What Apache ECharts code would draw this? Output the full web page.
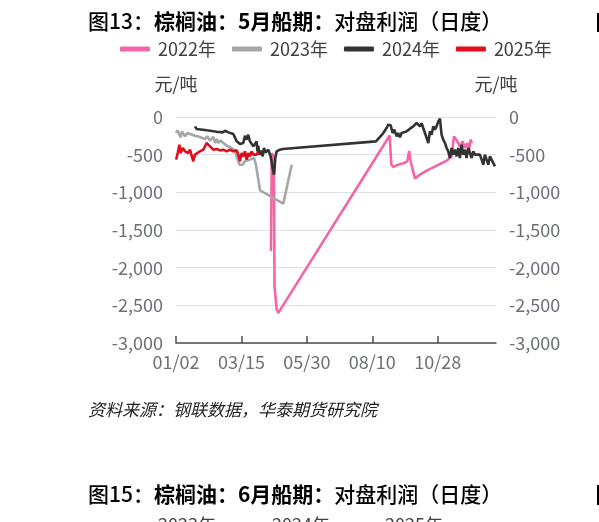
<!DOCTYPE html>
<html>
<head>
<meta charset="utf-8">
<script src="https://cdn.jsdelivr.net/npm/echarts@6/dist/echarts.min.js"></script>
<style>
html,body{margin:0;padding:0;background:#fff;}
#chart{width:599px;height:522px;}
</style>
</head>
<body>
<div id="chart"></div>
<script>
// x is a position along the year axis; one tick label every 50 units
const xTickLabels = ['01/02', '03/15', '05/30', '08/10', '10/28'];
const seriesNames = ['2022年', '2023年', '2024年', '2025年'];

const s2022 = [[72.6,-1780],[73.2,-480],[74.0,-470],[74.8,-520],[75.3,-2250],[76.9,-2550],[78.2,-2600],
  [163.3,-246],[164.5,-633],[166.0,-663],[169.8,-633],[173.7,-615],[176.7,-590],[178.2,-450],[179.3,-590],
  [182.6,-815],[186.4,-765],[191.5,-712],[196.6,-668],[201.7,-624],[206.8,-580],[210.6,-522],[212.4,-257],
  [214.9,-323],[216.9,-390],[219.0,-323],[220.8,-412],[222.6,-345],[223.8,-456],[225.1,-301],[226.1,-345]];

const s2023 = [[0.1,-212],[1.1,-177],[2.6,-159],[3.6,-270],[4.6,-190],[5.6,-177],[6.9,-257],[8.7,-212],
  [10.7,-226],[14.5,-248],[18.3,-265],[22.1,-292],[23.9,-257],[26.0,-314],[28.5,-265],[29.8,-345],[31.1,-292],
  [32.3,-345],[34.1,-310],[36.2,-345],[38.7,-380],[42.5,-412],[45.1,-456],[46.8,-544],[48.4,-633],[50.9,-633],
  [52.7,-588],[56.5,-566],[59.6,-544],[61.1,-633],[64.2,-973],[82.0,-1150],[83.5,-1160],[88.4,-633]];

const s2024 = [[14.5,-124],[15.8,-159],[23.4,-177],[31.1,-195],[35.6,-204],[37.4,-182],[40.0,-204],[43.8,-226],
  [46.4,-323],[48.9,-358],[51.4,-345],[52.7,-248],[54.0,-301],[55.2,-235],[56.5,-323],[59.1,-390],[60.4,-403],
  [61.6,-323],[62.2,-456],[62.9,-380],[63.7,-500],[65.0,-445],[66.2,-522],[67.2,-412],[68.5,-470],[70.5,-434],
  [72.3,-522],[73.8,-677],[74.9,-765],[75.9,-544],[76.9,-456],[79.4,-434],[81.5,-425],
  [152.8,-323],[158.4,-213],[160.9,-146],[162.2,-102],[164.0,-110],[165.5,-213],[166.8,-168],[168.6,-257],
  [169.8,-213],[171.1,-270],[172.4,-213],[173.7,-235],[176.2,-191],[178.8,-155],[181.3,-124],[183.8,-80],
  [185.1,-58],[186.4,-124],[187.7,-80],[188.9,-146],[190.2,-124],[191.5,-279],[192.8,-345],[194.0,-191],
  [195.3,-235],[196.6,-124],[197.8,-168],[199.1,-124],[200.4,-58],[201.7,-23],[202.9,-235],[204.2,-301],
  [205.5,-345],[206.8,-412],[208.0,-456],[209.3,-544],[210.6,-412],[211.9,-500],[213.1,-434],[214.4,-522],
  [215.7,-412],[216.9,-544],[218.2,-367],[219.5,-500],[220.8,-434],[222.0,-544],[223.3,-412],[224.6,-478],
  [225.9,-544],[227.1,-456],[228.4,-500],[229.7,-500],[232.2,-500],[233.5,-522],[234.8,-633],[236.0,-500],
  [237.3,-522],[238.6,-633],[239.9,-522],[241.1,-566],[242.4,-610],[243.7,-655]];

const s2025 = [[0.1,-566],[1.3,-478],[2.6,-367],[3.6,-478],[5.1,-412],[6.9,-456],[8.2,-434],[9.4,-478],
  [10.7,-434],[12.0,-456],[13.2,-588],[14.5,-500],[16.3,-478],[18.3,-456],[20.9,-434],[23.4,-345],[26.0,-390],
  [28.5,-434],[31.1,-425],[33.6,-443],[36.2,-434],[38.7,-456],[41.3,-434],[43.8,-456],[46.4,-443],[47.6,-500],
  [48.9,-588],[50.2,-478],[51.4,-522],[52.7,-456],[54.0,-566],[55.3,-478],[56.5,-522],[57.8,-456],[59.1,-500],
  [60.4,-478],[61.6,-500],[62.9,-456]];

const seriesData = [s2022, s2023, s2024, s2025];
const colors = ['#F266A8', '#A6A6A6', '#333333', '#E00E1B'];

const FONT = '"Noto Sans CJK SC", "Noto Sans", sans-serif';
const chart = echarts.init(document.getElementById('chart'), null, {renderer: 'canvas'});

const option = {
  animation: false,
  textStyle: {fontFamily: FONT},
  color: colors,
  title: [{
    left: 88, top: 11, padding: 0,
    text: '{a|图13：}{b|棕榈油：5月船期：}{a|对盘利润（日度）}',
    textStyle: {
      rich: {
        a: {fontSize: 21, fontWeight: 500, color: '#000', fontFamily: FONT},
        b: {fontSize: 21, fontWeight: 'bold', color: '#000', fontFamily: FONT}
      }
    }
  }, {
    left: 88, top: 484, padding: 0,
    text: '{a|图15：}{b|棕榈油：6月船期：}{a|对盘利润（日度）}',
    textStyle: {
      rich: {
        a: {fontSize: 21, fontWeight: 500, color: '#000', fontFamily: FONT},
        b: {fontSize: 21, fontWeight: 'bold', color: '#000', fontFamily: FONT}
      }
    }
  }],
  legend: {
    left: 120, top: 40, padding: 0,
    itemWidth: 30, itemHeight: 5, itemGap: 16,
    icon: 'roundRect',
    data: seriesNames,
    textStyle: {fontSize: 18, color: '#404040', fontFamily: FONT, padding: [0, 0, 0, 3]}
  },
  grid: {left: 176, right: 103, top: 117, bottom: 179, containLabel: false},
  xAxis: {
    type: 'value', min: 0, max: 244.5, interval: 50,
    axisLine: {show: true, onZero: false, lineStyle: {color: '#505050', width: 1.5}},
    axisTick: {show: true, inside: true, length: 7, lineStyle: {color: '#505050', width: 1.5}},
    splitLine: {show: false},
    axisLabel: {
      fontSize: 18, color: '#6E7079', margin: 10, fontFamily: FONT,
      showMaxLabel: false,
      formatter: function (v) {
        const i = Math.round(v / 50);
        if (Math.abs(v - i * 50) > 1e-6 || i >= xTickLabels.length) return '';
        return xTickLabels[i];
      }
    }
  },
  yAxis: [{
    type: 'value', min: -3000, max: 0, interval: 500, position: 'left',
    name: '元/吨', nameLocation: 'end', nameGap: 24,
    nameTextStyle: {fontSize: 18, color: '#404040', fontFamily: FONT, align: 'center'},
    axisLine: {show: false}, axisTick: {show: false},
    axisLabel: {fontSize: 18, color: '#6E7079', margin: 13, fontFamily: FONT},
    splitLine: {show: true, lineStyle: {color: '#DDE1EC', width: 1.2}}
  }, {
    type: 'value', min: -3000, max: 0, interval: 500, position: 'right',
    name: '元/吨', nameLocation: 'end', nameGap: 24,
    nameTextStyle: {fontSize: 18, color: '#404040', fontFamily: FONT, align: 'center'},
    axisLine: {show: false}, axisTick: {show: false},
    axisLabel: {fontSize: 18, color: '#6E7079', margin: 13, fontFamily: FONT},
    splitLine: {show: false}
  }],
  series: seriesNames.map(function (name, k) {
    return {
      name: name, type: 'line', yAxisIndex: 0,
      data: seriesData[k], showSymbol: false, symbol: 'none',
      lineStyle: {width: 2.6, color: colors[k]},
      itemStyle: {color: colors[k]}
    };
  }),
  graphic: [
    {type: 'text', left: 88, top: 401,
     style: {text: '资料来源：钢联数据，华泰期货研究院', font: 'italic 17px ' + FONT, fill: '#222'}},
    {type: 'rect', left: 597, top: 13, shape: {width: 2, height: 19}, style: {fill: '#000'}},
    {type: 'rect', left: 597, top: 485, shape: {width: 2, height: 20}, style: {fill: '#000'}},
    {type: 'text', left: 158, top: 516, style: {text: '2023年', font: '18px ' + FONT, fill: '#404040'}},
    {type: 'text', left: 272, top: 516, style: {text: '2024年', font: '18px ' + FONT, fill: '#404040'}},
    {type: 'text', left: 385, top: 516, style: {text: '2025年', font: '18px ' + FONT, fill: '#404040'}}
  ]
};
chart.setOption(option);
</script>
</body>
</html>
